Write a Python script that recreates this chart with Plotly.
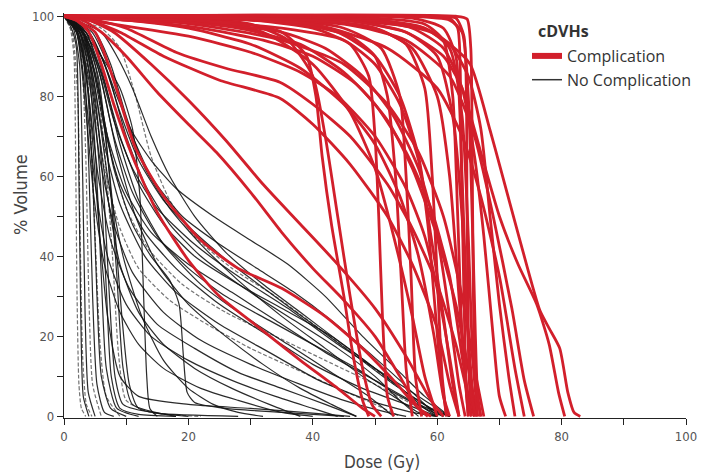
import plotly.graph_objects as go

# ---------------- data: cumulative DVH curves, (dose Gy, % volume) ----------------
# Complication patients (red)
comp_plateau = [
    [(0,100),(60,100),(63,99.5),(64.3,95),(64.8,50),(65.3,5),(66,0)],
    [(0,100),(55,100),(62,99),(64,96),(65,80),(65.8,40),(66.5,5),(67,0)],
    [(0,100),(50,99),(58,97),(62,92),(64,75),(65,45),(65.7,15),(66.5,0)],
    [(0,100),(45,99),(55,96),(60,90),(62.5,75),(64,50),(65,20),(66,0)],
    [(0,100),(50,99.5),(58,98),(61,94),(62.5,80),(63.3,50),(64,20),(65,0)],
    [(0,100),(40,99),(50,97),(56,92),(60,80),(62,60),(63.5,30),(65,0)],
    [(0,100),(55,100),(62,99.5),(63.3,97),(63.8,70),(64.3,30),(64.8,5),(65.5,0)],
    [(0,100),(56,99.5),(61,97),(63,90),(64,60),(64.8,25),(65.5,5),(66.3,0)],
    [(0,100),(63,100),(64.8,99.3),(65.4,92),(65.7,50),(66.1,10),(67,0)],
]
comp_fan = [
    [(0,100),(2,99),(4,96),(6,88),(8,78),(11,65),(15,51),(20,39),(25,30),(31.5,22),(38,14),(44,7),(48,2),(50,0)],
    [(0,100),(2,99),(5,96),(8,84),(11.5,67),(16,55),(22,44),(28,37),(35,32),(42,25),(48,17),(53,9),(57,2),(59,0)],
    [(0,100),(3,99),(6,96),(10,90),(15,81),(20,73),(24.5,66),(30,56),(35,46),(40,37),(45,29),(50,20),(54,10),(57,2),(58.5,0)],
    [(0,100),(4,99),(8,96),(14,88),(20,79),(26,69),(32,58),(38,48),(44,38),(50,27),(55,15),(59,4),(61,0)],
    [(0,100),(5,99),(10,97),(18,91),(26,87),(34.7,83.5),(40,78),(46,70),(52,58),(56,47),(60,33),(63,18),(65,5),(66,0)],
    [(0,100),(4,99),(9,96),(16,90),(25,84),(34.7,79.5),(40,73),(46,63),(52,50),(56,38),(60,22),(62,8),(63.5,0)],
    [(0,100),(10,99),(20,97),(30,93),(38,87),(45,78),(50,68),(54,55),(57,40),(59.5,20),(61,5),(62,0)],
    [(0,100),(15,99),(25,97),(35,94),(45,88),(52,78),(57,66),(61,50),(64,30),(66,12),(67.5,0)],
    [(0,100),(20,99),(32,96),(40,88),(46,76),(50,62),(53,45),(56,25),(58,10),(60,0)],
    [(0,100),(20,99.5),(30,98),(36,94),(40,85),(42,70),(44,50),(46,30),(48,12),(49.5,3),(51,0)],
    [(0,100),(25,99),(35,96),(39,90),(40.5,80),(41.5,65),(43,48),(45,30),(46.5,15),(48,4),(49,0)],
    [(0,100),(30,99),(40,97),(46,93),(49,85),(50,70),(50.6,50),(51.2,25),(52,5),(53,0)],
    [(0,100),(35,99),(45,97),(51,92),(54,80),(55,60),(55.8,35),(56.5,10),(57.5,0)],
    [(0,100),(40,99),(50,97),(55,93),(58,82),(59.2,60),(60,35),(60.8,10),(61.5,0)],
    [(0,100),(35,99),(44,96),(50,90),(54,80),(57,65),(59,45),(61,25),(62.5,8),(63.5,0)],
]
comp_mid = [
    [(0,100),(10,99),(25,98),(35,96),(42,92),(48,85),(53,75),(57,62),(60,45),(62,25),(63.5,8),(64.5,0)],
    [(0,100),(15,99),(28,97),(38,93),(45,86),(50,78),(55,66),(59,52),(62,35),(64,15),(65.5,0)],
    [(0,100),(8,98),(20,95),(30,91),(38,86),(44,80),(50,70),(55,57),(58,45),(60.5,28),(62.5,10),(63.5,0)],
    [(0,100),(20,99),(35,97),(45,94),(50,88),(54,78),(57,64),(58.5,48),(59.5,30),(60.5,12),(61.5,0)],
    [(0,100),(25,99.5),(38,98),(46,95),(50,90),(52,80),(53.3,60),(54.2,35),(55,12),(56,0)],
    [(0,100),(10,99),(22,97),(32,94),(40,90),(47,83),(52,74),(56,62),(60,45),(63,28),(65,12),(66.5,0)],
]
comp_late = [
    [(0,100),(45,99),(55,97.5),(59,96),(62,93),(65.3,88),(68.5,71.5),(70,63),(73.3,44),(76.5,26.5),(78,22),(79.7,17),(81,6),(82,1),(83,0)],
    [(0,100),(45,99),(55,96),(61,90),(64,82),(67,66),(70,50),(73,38),(76,28),(78,18),(79.5,6),(80.5,0)],
    [(0,100),(45,98),(55,94),(62,85),(66,70),(69,50),(72,27),(74,9),(75.5,0)],
    [(0,100),(40,98),(52,92),(60,82),(64,70),(67,55),(70,35),(72.5,12),(74,0)],
    [(0,100),(50,99),(58,97),(62,93),(65,85),(67,72),(68.5,50),(70,28),(71.5,10),(72.5,0)],
    [(0,100),(48,99),(56,97),(61,92),(64,82),(66,65),(67.5,45),(69,20),(70,5),(71,0)],
]

# No-complication patients (black), solid and dashed
nocomp_steep = [
    [(0,100),(1.2,97),(2,92),(2.4,60),(2.7,25),(3.1,5),(4,0)],
    [(0,100),(1.5,97),(2.5,88),(3,60),(3.4,25),(3.9,6),(5,0)],
    [(0,100),(2,96),(3.2,88),(4,62),(4.6,30),(5.3,8),(6.5,1),(8,0)],
    [(0,100),(2.2,96),(3.6,85),(4.6,60),(5.3,30),(6,10),(7.5,2),(10,0)],
    [(0,100),(2.5,96),(4,86),(5.2,62),(6,35),(6.8,12),(8.5,2),(12,0)],
    [(0,100),(2.6,96),(4.3,84),(5.8,60),(6.8,32),(7.6,10),(9,2),(12,0.5),(18,0)],
    [(0,100),(2.8,96),(4.8,82),(6.3,58),(7.3,30),(8.2,10),(9.5,3),(15,0.8),(28,0)],
    [(0,100),(3,96),(5.5,85),(7.2,62),(8.5,35),(9.5,12),(11,3),(18,0)],
    [(0,100),(3.2,96),(5,88),(6.5,72),(8,50),(9.3,25),(10.5,8),(12,2),(20,0)],
]
nocomp_steep_dashed = [
    [(0,100),(1,97),(1.6,90),(1.9,60),(2.1,30),(2.4,8),(2.8,2),(3.5,0)],
    [(0,100),(1.8,97),(2.8,90),(3.5,65),(4,30),(4.6,8),(6,0)],
    [(0,100),(3,96),(5.2,84),(6.6,65),(7.8,40),(8.8,15),(10,4),(14,1),(22,0)],
    [(0,100),(1.3,96),(2.2,80),(2.6,45),(3,15),(3.6,3),(4.5,0)],
    [(0,100),(2.4,96),(3.5,90),(4.3,70),(5,45),(5.8,18),(6.8,5),(9,0)],
]
nocomp_tail = [
    [(0,100),(2.5,96),(4.5,88),(6.5,72),(9,58),(13,46),(18,37),(25,28),(32,21),(40,13),(48,7),(55,3),(60,0)],
    [(0,100),(2.5,96),(4.5,86),(6.5,68),(9,53),(13,40),(18,31),(25,23),(33,16),(41,9),(49,4),(56,1),(60,0)],
    [(0,100),(3,96),(5,86),(7,70),(10,56),(14,46),(20,38),(27,31),(34,24),(42,16),(50,9),(57,3),(62,0)],
    [(0,100),(3,96),(5.5,88),(8,74),(11,62),(15,52),(21,43),(28,35),(36,27),(44,18),(52,10),(58,4),(62,0)],
    [(0,100),(3.5,96),(6,90),(8.5,80),(11,71),(14,64),(18,57),(24,50),(30,44),(36,38),(42,30),(48,20),(54,11),(58,5),(62,0)],
    [(0,100),(2.2,96),(4,84),(5.8,64),(8,48),(11,36),(16,26),(22,19),(30,13),(38,8),(45,4),(52,1),(55,0)],
    [(0,100),(2.2,96),(3.8,82),(5.5,60),(7.5,44),(10.5,32),(15,23),(21,17),(28,11),(35,7),(42,3),(47,0)],
    [(0,100),(2,96),(3.5,80),(5,58),(7,40),(10,28),(14,20),(20,14),(27,9),(34,5),(40,2),(44,0)],
    [(0,100),(2,96),(3.4,78),(4.8,55),(6.5,38),(9,26),(12,18),(16,12),(22,7),(28,4),(35,1),(40,0)],
    [(0,100),(3,96),(5.5,87),(8,70),(11,56),(15,45),(20,37),(26,30),(33,24),(40,18),(47,12),(53,6),(58,2),(61,0)],
    [(0,100),(3.5,96),(6,86),(9,70),(12,58),(16,48),(21,40),(28,33),(35,27),(43,20),(50,12),(55,6),(58,2),(60,0)],
    [(0,100),(4,96),(7,86),(10,70),(13,58),(17,48),(22,40),(29,32),(37,24),(44,17),(50,10),(54,4),(57,0)],
    [(0,100),(4,96),(6.5,88),(9,76),(12,64),(16,54),(21,46),(27,38),(33,31),(40,23),(47,15),(53,8),(58,3),(61,0)],
    [(0,100),(5,96),(7.5,88),(10,75),(13,62),(17,52),(22,43),(28,34),(35,25),(42,17),(48,10),(53,5),(57,1),(60,0)],
    [(0,100),(6,96),(8.5,90),(11,82),(14,70),(17,60),(21,50),(26,41),(32,33),(38,26),(44,19),(50,12),(55,6),(59,2),(62,0)],
    [(0,100),(3,96),(6,90),(9,82),(11,72),(12.2,55),(12.8,30),(13.3,10),(13.8,2),(15,0)],
    [(0,100),(3,96),(5.5,82),(8,62),(11,48),(14,40),(17,34),(18.5,28),(19.2,15),(19.8,6),(21,3.5),(26,2),(35,1),(45,0)],
    [(0,100),(3,96),(5,82),(7,60),(9.5,40),(12.5,25),(16,14),(20,7),(24,3),(28,1),(32,0)],
    [(0,100),(3.5,96),(6,84),(8.5,66),(11.5,50),(15,38),(20,28),(26,20),(32,13),(38,7),(43,3),(47,0)],
    [(0,100),(4,96),(6.5,84),(9,68),(12,54),(16,43),(22,33),(29,25),(36,18),(43,11),(49,5),(53,0)],
    [(0,100),(2.5,96),(4,80),(5.5,50),(7,25),(9,10),(12,5),(20,3),(30,2),(40,0.8),(46,0)],
    [(0,100),(3,96),(5,78),(7,55),(9,38),(12,26),(16,18),(21,12),(27,7),(33,3),(38,0)],
    [(0,100),(4.5,96),(7.5,86),(10.5,72),(14,60),(19,50),(25,43),(31,37),(37,31),(43,24),(49,16),(54,9),(58,3),(60,0)],
]
nocomp_tail_dashed = [
    [(0,100),(2.8,96),(5,85),(7.5,66),(10,52),(13.5,42),(19,33),(26,26),(34,20),(42,14),(50,8),(56,3),(59,0)],
    [(0,100),(2.5,96),(4.5,82),(6.5,62),(9,47),(12,37),(17,29),(23,23),(30,17),(37,12),(44,7),(50,3),(54,0)],
    [(0,100),(6,97),(9,92),(11.5,80),(14,65),(17,54),(21,45),(27,37),(34,30),(41,22),(48,14),(54,7),(59,2),(62,0)],
]

x_tick_vals = [0, 20, 40, 60, 80, 100]
y_tick_vals = [0, 20, 40, 60, 80, 100]
x_title = "Dose (Gy)"
y_title = "% Volume"
legend_title = "cDVHs"
legend_labels = ["Complication", "No Complication"]

# ---------------- styles / geometry ----------------
RED = "#d21f2b"
BLACK = "rgba(20,20,20,0.9)"
GREY_DASH = "rgba(90,90,90,0.85)"
TICK_FONT = "DejaVu Sans Condensed, Liberation Sans Narrow, Roboto, sans-serif"
LEG_FONT = "Open Sans, Noto Sans, sans-serif"
W, H = 713, 476
ML, MR, MT, MB = 64, 27, 13, 58

def px_to_paper(px, py):
    return (px - ML) / (W - ML - MR), (H - MB - py) / (H - MT - MB)

fig = go.Figure()

def add_curves(curves, color, width, dash=None):
    for c in curves:
        fig.add_trace(go.Scatter(
            x=[p[0] for p in c], y=[p[1] for p in c],
            mode="lines", showlegend=False, hoverinfo="skip",
            line=dict(color=color, width=width, dash=dash, shape="spline", smoothing=0.6),
        ))

add_curves(nocomp_steep_dashed, GREY_DASH, 1.2, "4px,2px")
add_curves(nocomp_tail_dashed, GREY_DASH, 1.2, "4px,2px")
add_curves(nocomp_steep, BLACK, 1.2)
add_curves(nocomp_tail, BLACK, 1.2)
add_curves(comp_fan, RED, 2.8)
add_curves(comp_mid, RED, 2.8)
add_curves(comp_late, RED, 2.8)
add_curves(comp_plateau, RED, 2.8)

# legend-only entries
fig.add_trace(go.Scatter(x=[None], y=[None], mode="lines", name=legend_labels[0],
                         line=dict(color=RED, width=6)))
fig.add_trace(go.Scatter(x=[None], y=[None], mode="lines", name=legend_labels[1],
                         line=dict(color="#333333", width=1.5)))

axis_common = dict(
    showgrid=False, zeroline=False, showline=True, linecolor="#222", linewidth=1.2,
    ticks="outside", ticklen=6, tickwidth=1.2, tickcolor="#222",
    tickfont=dict(family=TICK_FONT, size=13, color="#555"),
    minor=dict(dtick=10, ticks="outside", ticklen=6, tickwidth=1.2, tickcolor="#222"),
)

lx, ly = px_to_paper(527, 39)
tx, ty = px_to_paper(536, 31)
xtx, xty = px_to_paper(382, 462)
ytx, yty = px_to_paper(20, 195)

fig.update_layout(
    width=W, height=H,
    margin=dict(l=ML, r=MR, t=MT, b=MB, autoexpand=False),
    paper_bgcolor="white", plot_bgcolor="white",
    xaxis=dict(range=[0, 100], tickvals=x_tick_vals, **axis_common),
    yaxis=dict(range=[-0.4, 100.8], tickvals=y_tick_vals, **axis_common),
    legend=dict(x=lx, y=ly, xanchor="left", yanchor="top",
                bgcolor="rgba(255,255,255,0)",
                font=dict(family=LEG_FONT, size=16, color="#333"),
                itemwidth=30, tracegroupgap=0),
    annotations=[
        dict(text="<b>" + legend_title + "</b>", xref="paper", yref="paper",
             x=tx, y=ty, xanchor="left", yanchor="middle", showarrow=False,
             font=dict(family=LEG_FONT, size=16, color="#333")),
        dict(text=x_title, xref="paper", yref="paper", x=xtx, y=xty,
             xanchor="center", yanchor="middle", showarrow=False,
             font=dict(family=TICK_FONT, size=17, color="#444")),
        dict(text=y_title, xref="paper", yref="paper", x=ytx, y=yty, textangle=-90,
             xanchor="center", yanchor="middle", showarrow=False,
             font=dict(family=TICK_FONT, size=18, color="#444")),
    ],
)

fig.write_html("out.html", config={"displayModeBar": False},
               post_script="document.body.style.margin='0px';")
